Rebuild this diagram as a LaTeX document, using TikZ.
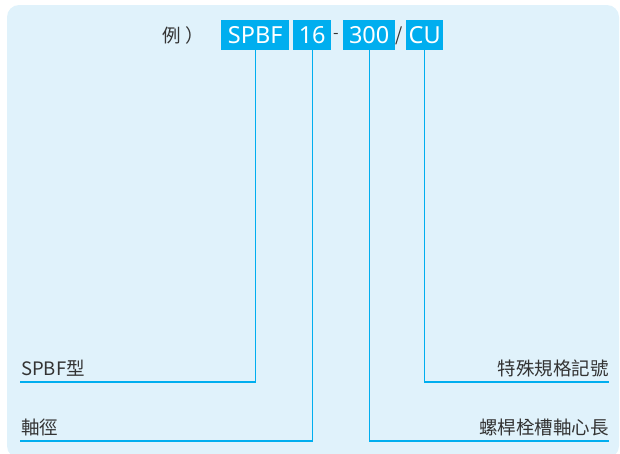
\documentclass[tikz,border=0pt]{standalone}
\usepackage{fontspec}
\setmainfont{Noto Sans CJK TC}
\newfontfamily\boxfont{Noto Sans}
\definecolor{bg}{HTML}{E0F2FB}
\definecolor{cy}{HTML}{00AEEF}
\definecolor{tx}{HTML}{333333}
\begin{document}
\begin{tikzpicture}[x=1pt,y=-1pt,
 codebox/.style={fill=cy, text=white, inner sep=0, minimum height=30pt, font=\boxfont\fontsize{23.5}{23.5}\selectfont, anchor=north west},
 lead/.style={draw=cy, line width=1.4pt},
 lbl/.style={text=tx, inner sep=0, font=\fontsize{18.5}{18.5}\selectfont}]
\useasboundingbox (0,0) rectangle (620,453);
\fill[bg, rounded corners=12pt] (7,5) rectangle (619,458);
\node[codebox, minimum width=68pt] (spbf) at (221,20) {SPBF};
\node[codebox, minimum width=38pt] (n16) at (293,20) {16};
\node[codebox, minimum width=52pt] (n300) at (343,20) {300};
\node[codebox, minimum width=37pt] (cu) at (406,20) {CU};
\node[lbl, anchor=west] (ex) at (162,35) {例\hspace{5pt}）};
\node[lbl, font=\fontsize{16}{16}\selectfont] (dash) at (336,36) {-};
\node[lbl] (slash) at (399.5,36) {/};
\coordinate (e1) at (20,382);
\coordinate (e2) at (20,441);
\coordinate (e3) at (609,441);
\coordinate (e4) at (609,382);
\draw[lead] (spbf.south) |- (e1);
\draw[lead] (n16.south) |- (e2);
\draw[lead] (n300.south) |- (e3);
\draw[lead] (cu.south) |- (e4);
\node[lbl, anchor=base west] (t1) at (21,375) {SPBF型};
\node[lbl, anchor=base west] (t2) at (21,434) {軸徑};
\node[lbl, anchor=base east] (t3) at (609,375) {特殊規格記號};
\node[lbl, anchor=base east] (t4) at (609,434) {螺桿栓槽軸心長};
\end{tikzpicture}
\end{document}
